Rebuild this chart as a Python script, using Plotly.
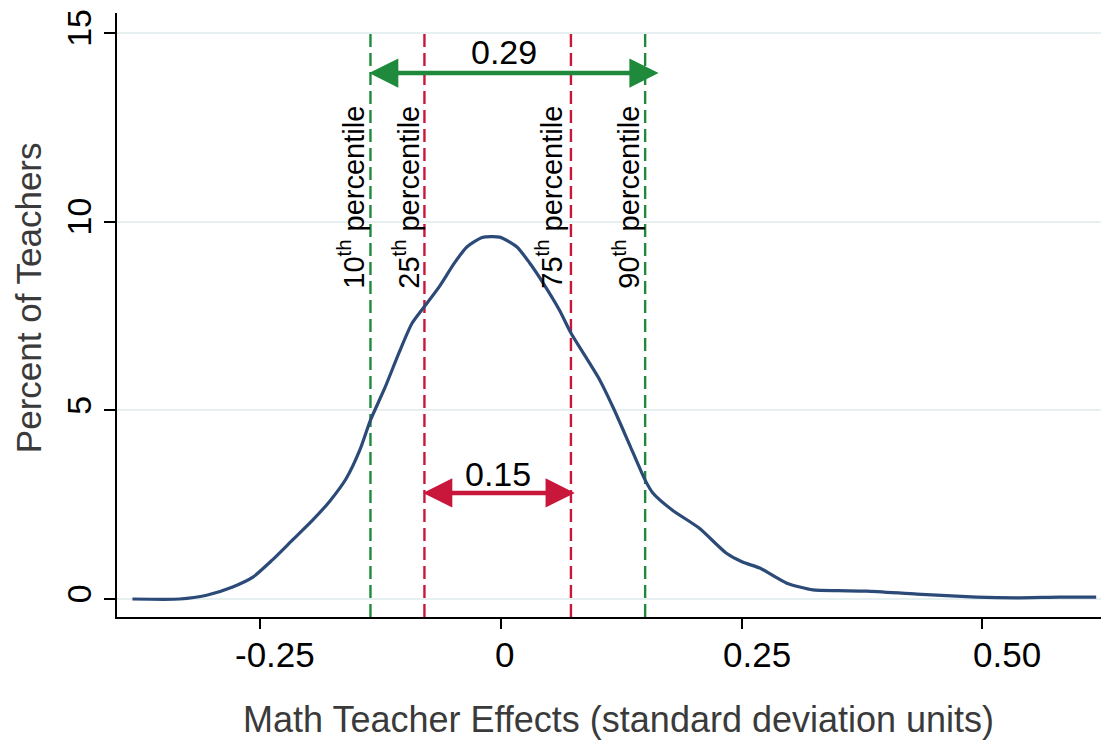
import plotly.graph_objects as go

# Kernel density of math teacher effects
effect_x = [-0.382, -0.333, -0.305, -0.278, -0.257, -0.237, -0.216, -0.195, -0.177, -0.160,
            -0.146, -0.135, -0.120, -0.105, -0.092, -0.079, -0.063, -0.048, -0.035, -0.019,
            -0.001, 0.017, 0.030, 0.044, 0.061, 0.073, 0.087, 0.103, 0.118, 0.134,
            0.150, 0.158, 0.178, 0.206, 0.234, 0.251, 0.269, 0.297, 0.324, 0.350,
            0.380, 0.432, 0.494, 0.535, 0.580, 0.618]
percent_teachers = [0.0, 0.0, 0.1, 0.32, 0.58, 1.03, 1.56, 2.09, 2.6, 3.2,
                    3.95, 4.74, 5.6, 6.55, 7.3, 7.75, 8.3, 8.9, 9.33, 9.58,
                    9.59, 9.33, 8.91, 8.38, 7.66, 7.05, 6.47, 5.80, 5.01, 4.08,
                    3.15, 2.81, 2.36, 1.88, 1.22, 0.98, 0.82, 0.42, 0.24, 0.22,
                    0.21, 0.13, 0.05, 0.03, 0.05, 0.05]

pct_names = ["10", "25", "75", "90"]
pct_values = [-0.135, -0.079, 0.073, 0.150]
pct_colors = ["#1f8a3c", "#c8173a", "#c8173a", "#1f8a3c"]

spread_labels = ["0.29", "0.15"]
x_tickvals = [-0.25, 0, 0.25, 0.5]
x_ticktext = ["-0.25", "0", "0.25", "0.50"]
x_label_shift = [15, 4, 15, 25]
y_tickvals = [0, 5, 10, 15]

FONT = "Liberation Sans, Arial, sans-serif"
GREEN = "#1f8a3c"
RED = "#c8173a"

fig = go.Figure()

# percentile dashed lines
for v, c in zip(pct_values, pct_colors):
    fig.add_trace(go.Scatter(x=[v, v], y=[-0.48, 15], mode="lines",
                             line=dict(color=c, width=2.4, dash="13px,6px"),
                             hoverinfo="skip", showlegend=False))

fig.add_trace(go.Scatter(x=effect_x, y=percent_teachers, mode="lines",
                         line=dict(color="#2c4a78", width=3.2, shape="spline", smoothing=0.6),
                         showlegend=False))

# percentile labels
label_x = [-0.1546, -0.0975, 0.0508, 0.1307]
for name, lx in zip(pct_names, label_x):
    fig.add_annotation(x=lx, y=10.65, xref="x", yref="y",
                       text=f"{name}<sup>th</sup> percentile", textangle=-90,
                       showarrow=False, xanchor="center", yanchor="middle",
                       font=dict(family=FONT, size=29, color="black"))

# arrows
fig.add_annotation(x=0.164, y=13.94, ax=-0.138, ay=13.94, xref="x", yref="y",
                   axref="x", ayref="y", text="", showarrow=True,
                   arrowhead=2, startarrowhead=2, arrowside="end+start",
                   arrowsize=1.3, startarrowsize=1.3, arrowwidth=4.5, arrowcolor=GREEN)
fig.add_annotation(x=0.077, y=2.81, ax=-0.082, ay=2.81, xref="x", yref="y",
                   axref="x", ayref="y", text="", showarrow=True,
                   arrowhead=2, startarrowhead=2, arrowside="end+start",
                   arrowsize=1.3, startarrowsize=1.3, arrowwidth=4.5, arrowcolor=RED)

fig.add_annotation(x=0.004, y=14.5, xref="x", yref="y", text=spread_labels[0],
                   showarrow=False, font=dict(family=FONT, size=34, color="black"))
fig.add_annotation(x=-0.003, y=3.3, xref="x", yref="y", text=spread_labels[1],
                   showarrow=False, font=dict(family=FONT, size=34, color="black"))

# x tick labels (drawn slightly offset as in the reference)
for v, t, s in zip(x_tickvals, x_ticktext, x_label_shift):
    fig.add_annotation(x=v, y=-0.0613, xref="x", yref="paper", text=t, xshift=s,
                       showarrow=False, xanchor="center", yanchor="middle",
                       font=dict(family=FONT, size=35, color="black"))

# axis titles
fig.add_annotation(x=0.51, y=-0.1705, xref="paper", yref="paper",
                   text="Math Teacher Effects (standard deviation units)",
                   showarrow=False, xanchor="center", yanchor="middle",
                   font=dict(family=FONT, size=36, color="#3a3a3a"))
fig.add_annotation(x=-0.0904, y=0.528, xref="paper", yref="paper",
                   text="Percent of Teachers", textangle=-90,
                   showarrow=False, xanchor="center", yanchor="middle",
                   font=dict(family=FONT, size=35, color="#3a3a3a"))

fig.update_layout(
    width=1101, height=740,
    margin=dict(l=117, r=0, t=13, b=123),
    plot_bgcolor="white", paper_bgcolor="white",
    xaxis=dict(range=[-0.398, 0.623], tickvals=x_tickvals, showticklabels=False,
               ticks="outside", ticklen=10, tickwidth=1.5, tickcolor="black",
               showline=True, linecolor="black", linewidth=2, showgrid=False,
               zeroline=False),
    yaxis=dict(range=[-0.477, 15.53], tickvals=y_tickvals, tickangle=-90,
               ticks="outside", ticklen=11, tickwidth=1.5, tickcolor="black",
               showline=True, linecolor="black", linewidth=1.5,
               showgrid=True, gridcolor="#e6f0f0", gridwidth=2,
               zeroline=False, tickfont=dict(family=FONT, size=34, color="black")),
)

fig.write_html("out.html")
